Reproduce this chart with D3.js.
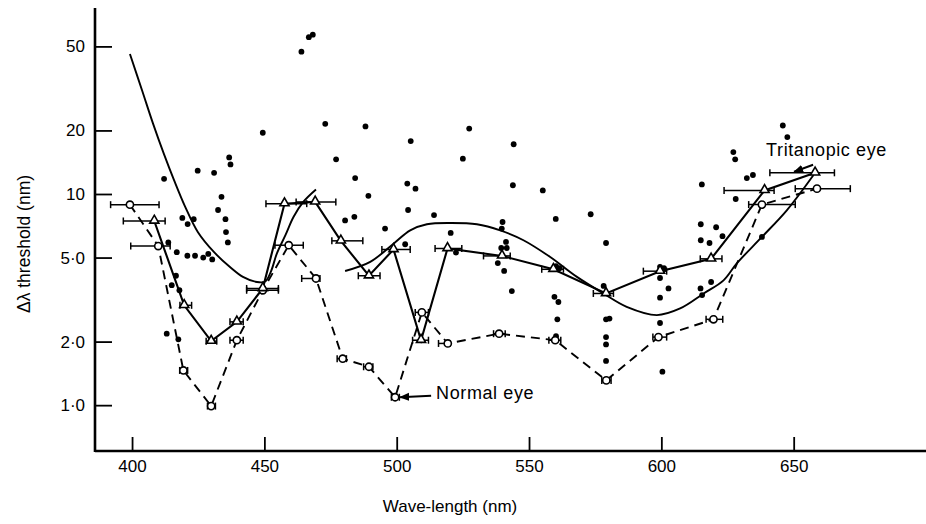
<!DOCTYPE html>
<html><head><meta charset="utf-8">
<script src="https://cdn.jsdelivr.net/npm/d3@7"></script>
<style>
body{margin:0;background:#fff;}
svg{display:block;font-family:"Liberation Sans",Arial,sans-serif;}
</style></head>
<body><svg id="c" width="926" height="524"></svg>
<script>
// ---- data ----
const xTicks = [400, 450, 500, 550, 600, 650];
const yTicks = [1, 2, 5, 10, 20, 50];
const yTickLabels = ["1·0", "2·0", "5·0", "10", "20", "50"];

// Tritanopic eye (triangles, solid line)
const tritNm  = [408.4, 419.7, 429.9, 439.6, 449.4, 457.6, 469.2, 478.9, 489.5, 498.8, 509.2, 519.2, 539.8, 559.2, 579.1, 599.5, 618.8, 639.0, 658.1];
const tritVal = [7.45, 2.97, 2.01, 2.48, 3.57, 9.0, 9.17, 6.0, 4.1, 5.46, 2.03, 5.52, 5.09, 4.4, 3.38, 4.31, 4.93, 10.4, 12.6];
const tritLo  = [396.7, 418.1, 428.0, 437.0, 443.3, 450.6, 462.0, 475.5, 485.5, 494.4, 506.0, 514.5, 532.8, 554.8, 574.3, 593.2, 614.7, 623.7, 641.0];
const tritHi  = [412.5, 422.5, 432.0, 442.0, 455.3, 466.0, 477.0, 487.2, 493.7, 505.1, 512.0, 524.6, 542.9, 563.0, 581.9, 602.0, 622.9, 642.6, 665.4];

// Normal eye (circles, dashed line)
const normNm  = [399.2, 409.9, 419.4, 429.9, 439.6, 449.4, 459.2, 469.5, 479.6, 489.5, 499.4, 509.5, 519.3, 538.7, 559.9, 579.2, 598.9, 619.7, 638.0, 658.8];
const normVal = [8.9, 5.67, 1.46, 0.99, 2.03, 3.5, 5.72, 3.98, 1.66, 1.52, 1.09, 2.75, 1.96, 2.18, 2.03, 1.31, 2.10, 2.55, 8.91, 10.6];
const normLo  = [391.9, 399.5, 418.0, 428.5, 437.0, 443.3, 454.0, 464.1, 477.5, 487.5, 498.0, 507.0, 515.8, 536.6, 557.5, 577.5, 596.8, 616.9, 633.0, 650.6];
const normHi  = [410.2, 414.4, 421.0, 431.5, 442.0, 455.3, 464.7, 471.0, 481.0, 491.0, 501.0, 512.0, 520.2, 541.0, 562.0, 581.0, 602.0, 623.2, 650.6, 671.4];

// Smooth theoretical curves
const curveANm  = [399.2, 403.8, 407.9, 412.1, 415.9, 420.0, 424.9, 431.0, 437.0, 441.9, 447.2, 450.3, 452.5, 454.7, 458.0, 461.0, 464.7, 469.5];
const curveAVal = [46, 30.9, 21.6, 15.4, 11.6, 8.74, 6.59, 5.3, 4.51, 4.05, 3.83, 3.85, 4.3, 5.22, 6.4, 7.78, 9.17, 10.5];
const curveBNm  = [480.5, 490.0, 498.8, 505.1, 511.4, 520.2, 530.3, 539.1, 547.9, 558.0, 568.1, 578.1, 586.9, 598.3, 607.1, 616.0, 623.5, 628.5, 638.0, 647.4, 657.5];
const curveBVal = [4.32, 4.77, 5.82, 6.73, 7.19, 7.29, 7.19, 6.73, 6.04, 5.03, 4.05, 3.38, 2.92, 2.67, 2.87, 3.38, 3.9, 4.69, 6.26, 8.37, 12.3];

// Individual observations (filled dots)
const dotNm = [412.1, 424.8, 431.0, 436.7, 437.2, 433.8, 432.5, 435.3, 419.0, 421.0, 423.3, 435.5, 436.2, 413.7, 416.9, 420.9, 423.8, 426.9, 428.8, 430.3, 416.6, 415.0, 417.9, 413.1, 417.5,
  449.4, 464.0, 466.8, 468.3, 473.0, 488.2, 477.1, 484.3, 489.3, 480.5, 484.0,
  505.3, 527.4, 544.2, 525.0, 504.0, 507.1, 543.9, 555.2, 504.3, 514.1, 495.6, 520.4, 503.2, 522.4, 540.0, 539.7, 541.3, 541.6, 539.5, 538.2, 540.6, 543.5,
  560.1, 573.3, 579.1, 560.2, 561.5, 559.6, 578.2, 561.1, 560.7, 560.2, 579.1, 580.4, 579.1, 579.1, 579.1,
  599.5, 602.7, 614.8, 618.8, 599.5, 600.4, 615.4, 645.9, 647.6, 627.2, 627.9, 632.3, 634.6, 615.3, 628.1, 614.9, 620.7, 614.9, 618.2, 623.1, 599.5, 601.0, 599.5, 638.0];
const dotVal = [11.8, 12.9, 12.6, 14.9, 13.8, 9.7, 8.4, 7.6, 7.7, 7.2, 7.6, 6.6, 5.9, 5.9, 5.3, 5.1, 5.1, 5.0, 5.2, 4.9, 4.1, 3.7, 3.5, 2.18, 2.05,
  19.5, 47.2, 55.3, 56.8, 21.5, 20.9, 14.6, 11.9, 9.8, 7.5, 7.8,
  17.8, 20.4, 17.2, 14.7, 11.2, 10.6, 11.0, 10.4, 8.4, 7.95, 6.86, 6.54, 5.78, 5.28, 7.37, 6.86, 5.93, 5.55, 5.55, 4.71, 4.32, 3.47,
  7.62, 8.02, 5.86, 4.55, 4.45, 3.26, 3.67, 3.08, 2.55, 2.12, 2.55, 2.57, 2.1, 1.94, 1.62,
  3.23, 3.57, 3.57, 3.83, 2.45, 1.44, 3.32, 21.1, 18.6, 15.8, 14.6, 11.9, 12.3, 11.1, 9.47, 7.19, 6.96, 6.04, 5.86, 6.31, 4.52, 4.45, 4.0, 6.26];

// ---- drawing ----
const svg = d3.select("#c");
const x = d3.scaleLinear().domain([386, 700]).range([95, 926]);
const y = d3.scaleLog().domain([0.6, 76]).range([452, 8]);

const zip = (a, b) => a.map((v, i) => [v, b[i]]);
const line = d3.line().x(d => x(d[0])).y(d => y(d[1]));
const smooth = d3.line().x(d => x(d[0])).y(d => y(d[1])).curve(d3.curveCatmullRom.alpha(0.5));

// smooth curves
svg.append("path").attr("d", smooth(zip(curveANm, curveAVal)))
  .attr("fill", "none").attr("stroke", "#000").attr("stroke-width", 1.9);
svg.append("path").attr("d", smooth(zip(curveBNm, curveBVal)))
  .attr("fill", "none").attr("stroke", "#000").attr("stroke-width", 1.9);

// normal (dashed)
svg.append("path").attr("d", line(zip(normNm, normVal)))
  .attr("fill", "none").attr("stroke", "#000").attr("stroke-width", 1.9)
  .attr("stroke-dasharray", "9,6");
// tritanopic (solid)
svg.append("path").attr("d", line(zip(tritNm, tritVal)))
  .attr("fill", "none").attr("stroke", "#000").attr("stroke-width", 2.1);

// error bars
function errBars(nm, val, lo, hi) {
  const g = svg.append("g").attr("stroke", "#000").attr("stroke-width", 1.5);
  nm.forEach((d, i) => {
    const yy = y(val[i]);
    g.append("line").attr("x1", x(lo[i])).attr("x2", x(hi[i])).attr("y1", yy).attr("y2", yy);
    g.append("line").attr("x1", x(lo[i])).attr("x2", x(lo[i])).attr("y1", yy - 3.5).attr("y2", yy + 3.5);
    g.append("line").attr("x1", x(hi[i])).attr("x2", x(hi[i])).attr("y1", yy - 3.5).attr("y2", yy + 3.5);
  });
}
errBars(normNm, normVal, normLo, normHi);
errBars(tritNm, tritVal, tritLo, tritHi);

// dots
svg.append("g").selectAll("circle").data(zip(dotNm, dotVal)).join("circle")
  .attr("cx", d => x(d[0])).attr("cy", d => y(d[1])).attr("r", 2.9).attr("fill", "#000");

// normal markers
svg.append("g").selectAll("circle").data(zip(normNm, normVal)).join("circle")
  .attr("cx", d => x(d[0])).attr("cy", d => y(d[1])).attr("r", 3.6)
  .attr("fill", "#fff").attr("stroke", "#000").attr("stroke-width", 1.6);
// tritanopic markers
const tri = d3.symbol().type(d3.symbolTriangle).size(36);
svg.append("g").selectAll("path").data(zip(tritNm, tritVal)).join("path")
  .attr("d", tri).attr("transform", d => `translate(${x(d[0])},${y(d[1]) - 0.5})`)
  .attr("fill", "#fff").attr("stroke", "#000").attr("stroke-width", 1.6);

// axes
const xAxis = d3.axisBottom(x).tickValues(xTicks).tickSize(-14).tickPadding(9).tickFormat(d3.format("d"));
const gx = svg.append("g").attr("transform", "translate(0,451)").call(xAxis);
gx.select(".domain").attr("d", `M${x.range()[0]},0H${x.range()[1]}`).attr("stroke-width", 2.6);
gx.selectAll(".tick line").attr("stroke-width", 1.8);
gx.selectAll("text").attr("font-size", 17).attr("fill", "#000");

const yAxis = d3.axisLeft(y).tickValues(yTicks).tickSize(-17).tickPadding(10)
  .tickFormat((d, i) => yTickLabels[i]);
const gy = svg.append("g").attr("transform", "translate(95,0)").call(yAxis);
gy.select(".domain").attr("d", `M0,${y.range()[1]}V${y.range()[0]}`).attr("stroke-width", 2.6);
gy.selectAll(".tick line").attr("stroke-width", 1.8);
gy.selectAll("text").attr("font-size", 17).attr("fill", "#000");

// axis titles
svg.append("text").attr("x", 450).attr("y", 512).attr("text-anchor", "middle")
  .attr("font-size", 17).text("Wave-length (nm)");
svg.append("text").attr("transform", "translate(30,244) rotate(-90)").attr("text-anchor", "middle")
  .attr("font-size", 17.5).text("Δλ threshold (nm)");

// annotations
svg.append("defs").append("marker").attr("id", "ah").attr("viewBox", "0 0 10 10")
  .attr("refX", 9).attr("refY", 5).attr("markerWidth", 5).attr("markerHeight", 5).attr("orient", "auto")
  .append("path").attr("d", "M0,1L10,5L0,9z").attr("fill", "#000");

const nx = x(normNm[10]), ny = y(normVal[10]);
svg.append("line").attr("x1", nx + 36).attr("y1", ny - 1.5).attr("x2", nx + 5).attr("y2", ny)
  .attr("stroke", "#000").attr("stroke-width", 2).attr("marker-end", "url(#ah)");
svg.append("text").attr("x", nx + 41).attr("y", ny + 2).attr("font-size", 18)
  .attr("letter-spacing", 0.6).text("Normal eye");

const tx = x(tritNm[18]), ty = y(tritVal[18]);
svg.append("line").attr("x1", tx - 2).attr("y1", ty - 8).attr("x2", tx - 21).attr("y2", ty - 1)
  .attr("stroke", "#000").attr("stroke-width", 2).attr("marker-end", "url(#ah)");
svg.append("text").attr("x", tx - 49).attr("y", ty - 17).attr("font-size", 18)
  .attr("letter-spacing", 0.6).text("Tritanopic eye");
</script></body></html>
